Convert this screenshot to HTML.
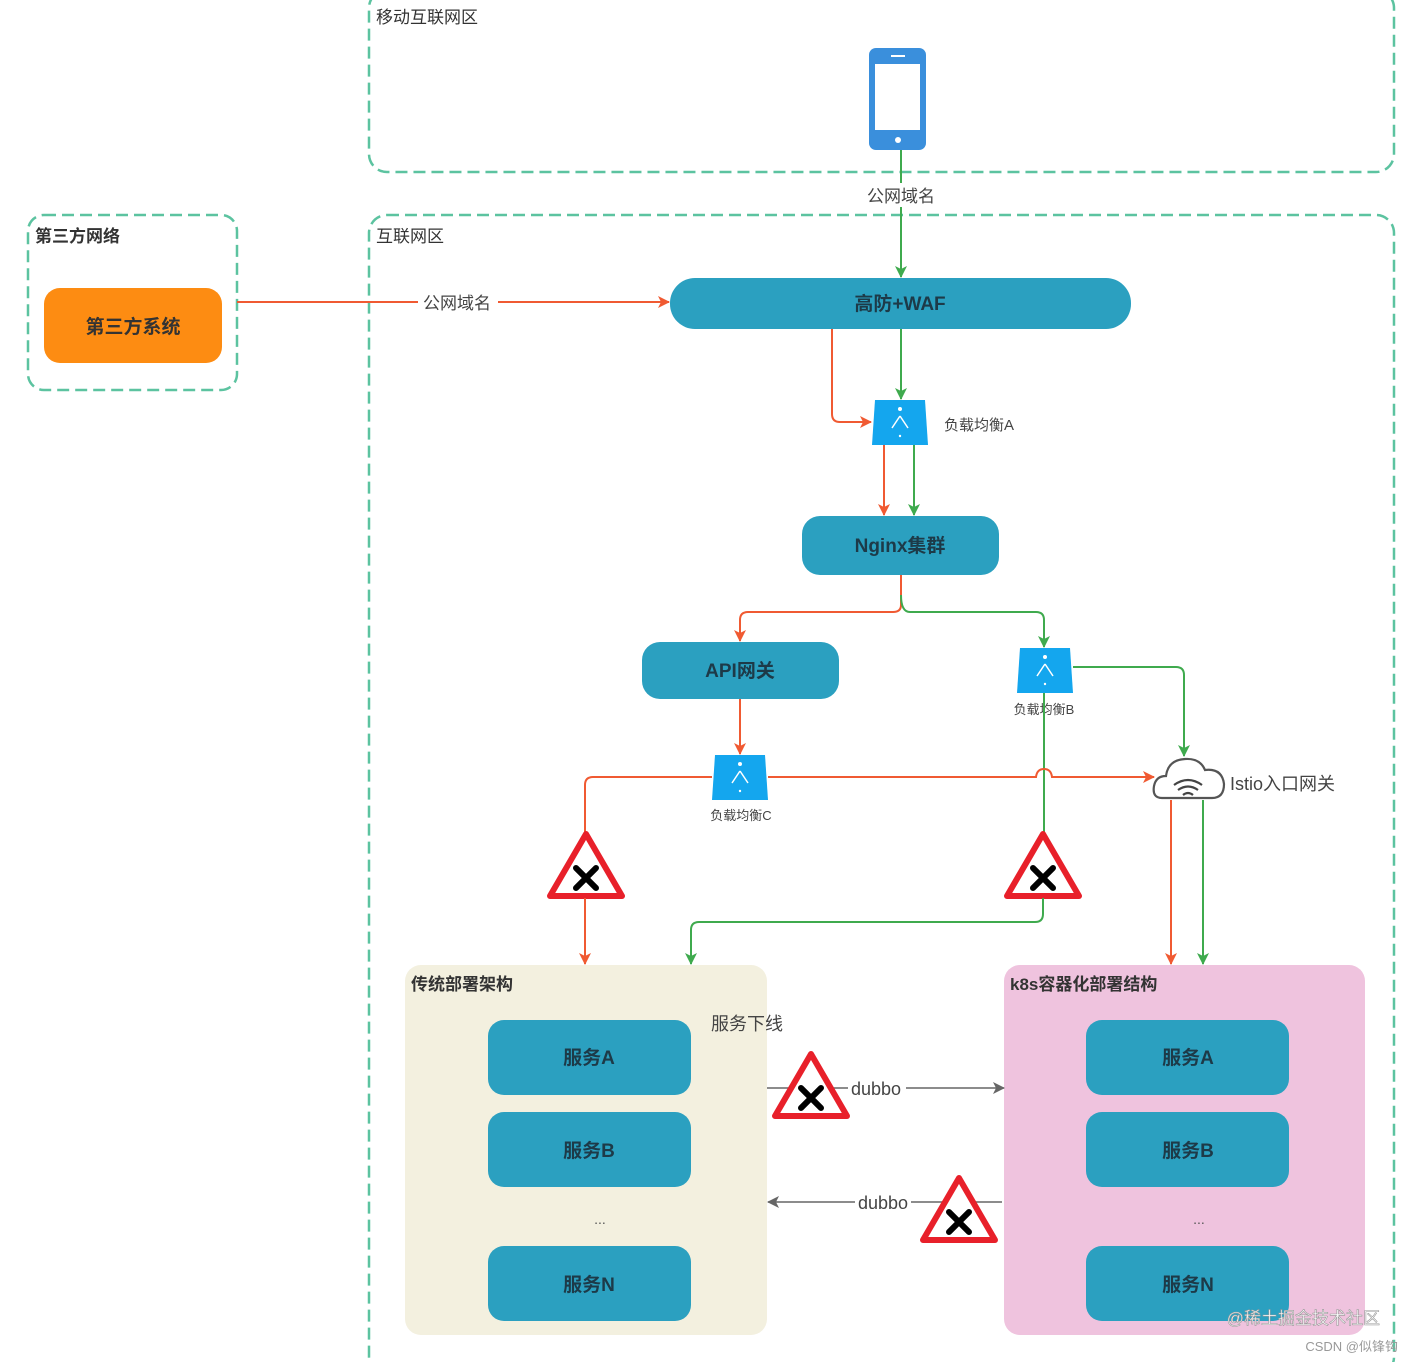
<!DOCTYPE html>
<html><head><meta charset="utf-8"><style>
html,body{margin:0;padding:0;background:#fff;}
svg{display:block;font-family:"Liberation Sans","Noto Sans CJK SC",sans-serif;}
</style></head><body>
<svg width="1414" height="1362" viewBox="0 0 1414 1362" xmlns="http://www.w3.org/2000/svg">
<defs>
<marker id="ar" markerWidth="12" markerHeight="12" refX="11" refY="6" orient="auto" markerUnits="userSpaceOnUse"><path d="M0,0 L12,6 L0,12 L3,6 z" fill="#f05a32"/></marker>
<marker id="ag" markerWidth="12" markerHeight="12" refX="11" refY="6" orient="auto" markerUnits="userSpaceOnUse"><path d="M0,0 L12,6 L0,12 L3,6 z" fill="#3faa4e"/></marker>
<marker id="ak" markerWidth="12" markerHeight="12" refX="11" refY="6" orient="auto" markerUnits="userSpaceOnUse"><path d="M0,0 L12,6 L0,12 L3,6 z" fill="#666"/></marker>
<g id="warn"><path d="M38,4 L74,66 L2,66 z" fill="#fff" stroke="#e8202a" stroke-width="6" stroke-linejoin="round"/><path d="M28,38 L48,58 M48,38 L28,58" stroke="#000" stroke-width="6" stroke-linecap="round"/></g>
<g id="lb"><path d="M3,0 L53,0 L56,45 L0,45 z" fill="#14a6ee"/><circle cx="28" cy="9" r="2" fill="#fff"/><path d="M28,16 L20,28 M28,16 L36,28" stroke="#fff" stroke-width="1.5"/><circle cx="28" cy="36" r="1.2" fill="#fff"/></g>
</defs>

<rect x="369" y="-10" width="1025" height="182" rx="18" fill="none" stroke="#5cc3a0" stroke-width="2.5" stroke-dasharray="12,6"/>
<text x="376" y="23" font-size="17" fill="#333">移动互联网区</text>
<rect x="369" y="215" width="1025" height="1160" rx="18" fill="none" stroke="#5cc3a0" stroke-width="2.5" stroke-dasharray="12,6"/>
<text x="376" y="242" font-size="17" fill="#333">互联网区</text>
<rect x="28" y="215" width="209" height="175" rx="16" fill="none" stroke="#5cc3a0" stroke-width="2.5" stroke-dasharray="12,6"/>
<text x="35" y="242" font-size="17" fill="#333" font-weight="bold">第三方网络</text>
<rect x="44" y="288" width="178" height="75" rx="16" fill="#fd8c12"/>
<text x="133" y="333" font-size="19" fill="#333" text-anchor="middle" font-weight="bold">第三方系统</text>

<rect x="869" y="48" width="57" height="102" rx="7" fill="#3a8fdc"/>
<rect x="875" y="64" width="45" height="66" fill="#fff"/>
<rect x="891" y="55" width="14" height="2" fill="#fff"/>
<circle cx="898" cy="140" r="3" fill="#fff"/>

<line x1="901" y1="150" x2="901" y2="277" stroke="#3faa4e" stroke-width="2" marker-end="url(#ag)"/>
<rect x="860" y="183" width="82" height="24" fill="#fff"/>
<text x="901" y="202" font-size="17" fill="#444" text-anchor="middle">公网域名</text>
<line x1="237" y1="302" x2="669" y2="302" stroke="#f05a32" stroke-width="2" marker-end="url(#ar)"/>
<rect x="418" y="290" width="80" height="24" fill="#fff"/>
<text x="457" y="309" font-size="17" fill="#444" text-anchor="middle">公网域名</text>

<rect x="670" y="278" width="461" height="51" rx="25" fill="#2ba0c0"/>
<text x="900" y="310" font-size="19" fill="#1d3a48" text-anchor="middle" font-weight="bold">高防+WAF</text>

<line x1="901" y1="329" x2="901" y2="399" stroke="#3faa4e" stroke-width="2" marker-end="url(#ag)"/>
<path d="M832,329 L832,414 Q832,422 840,422 L871,422" fill="none" stroke="#f05a32" stroke-width="2" marker-end="url(#ar)"/>
<use href="#lb" x="872" y="400"/>
<text x="944" y="430" font-size="15" fill="#444">负载均衡A</text>
<line x1="884" y1="445" x2="884" y2="515" stroke="#f05a32" stroke-width="2" marker-end="url(#ar)"/>
<line x1="914" y1="445" x2="914" y2="515" stroke="#3faa4e" stroke-width="2" marker-end="url(#ag)"/>

<rect x="802" y="516" width="197" height="59" rx="18" fill="#2ba0c0"/>
<text x="900" y="552" font-size="19" fill="#1d3a48" text-anchor="middle" font-weight="bold">Nginx集群</text>

<path d="M901,575 L901,605 Q901,612 893,612 L748,612 Q740,612 740,620 L740,641" fill="none" stroke="#f05a32" stroke-width="2" marker-end="url(#ar)"/>
<path d="M901,595 Q901,612 910,612 L1036,612 Q1044,612 1044,620 L1044,647" fill="none" stroke="#3faa4e" stroke-width="2" marker-end="url(#ag)"/>

<rect x="642" y="642" width="197" height="57" rx="18" fill="#2ba0c0"/>
<text x="740" y="677" font-size="19" fill="#1d3a48" text-anchor="middle" font-weight="bold">API网关</text>
<line x1="740" y1="699" x2="740" y2="754" stroke="#f05a32" stroke-width="2" marker-end="url(#ar)"/>
<use href="#lb" x="712" y="755"/>
<text x="741" y="820" font-size="13" fill="#444" text-anchor="middle">负载均衡C</text>

<use href="#lb" x="1017" y="648"/>
<text x="1044" y="714" font-size="13" fill="#444" text-anchor="middle">负载均衡B</text>
<path d="M1073,667 L1176,667 Q1184,667 1184,675 L1184,756" fill="none" stroke="#3faa4e" stroke-width="2" marker-end="url(#ag)"/>
<line x1="1044" y1="693" x2="1044" y2="832" stroke="#3faa4e" stroke-width="2"/>

<path d="M712,777 L593,777 Q585,777 585,785 L585,832" fill="none" stroke="#f05a32" stroke-width="2"/>
<path d="M768,777 L1036,777 Q1037,769 1044,769 Q1051,769 1052,777 L1154,777" fill="none" stroke="#f05a32" stroke-width="2" marker-end="url(#ar)"/>

<use href="#warn" x="548" y="830"/>
<use href="#warn" x="1005" y="830"/>
<line x1="585" y1="898" x2="585" y2="964" stroke="#f05a32" stroke-width="2" marker-end="url(#ar)"/>
<path d="M1043,898 L1043,914 Q1043,922 1035,922 L699,922 Q691,922 691,930 L691,964" fill="none" stroke="#3faa4e" stroke-width="2" marker-end="url(#ag)"/>

<path d="M1162,798 Q1152,798 1154,786 Q1156,776 1166,776 Q1168,760 1185,759 Q1200,758 1205,770 Q1222,768 1224,784 Q1224,798 1212,798 Z" fill="#fff" stroke="#555" stroke-width="2.2"/>
<path d="M1174,785 Q1188,775 1202,785 M1178,790 Q1188,783 1198,790 M1183,795 Q1188,791 1193,795" fill="none" stroke="#444" stroke-width="2.2"/>
<text x="1230" y="790" font-size="18" fill="#444">Istio入口网关</text>
<line x1="1171" y1="800" x2="1171" y2="964" stroke="#f05a32" stroke-width="2" marker-end="url(#ar)"/>
<line x1="1203" y1="800" x2="1203" y2="964" stroke="#3faa4e" stroke-width="2" marker-end="url(#ag)"/>

<rect x="405" y="965" width="362" height="370" rx="16" fill="#f3f0df"/>
<text x="411" y="990" font-size="17" fill="#333" font-weight="bold">传统部署架构</text>
<rect x="488" y="1020" width="203" height="75" rx="16" fill="#2ba0c0"/>
<text x="589" y="1064" font-size="19" fill="#1d3a48" text-anchor="middle" font-weight="bold">服务A</text>
<rect x="488" y="1112" width="203" height="75" rx="16" fill="#2ba0c0"/>
<text x="589" y="1157" font-size="19" fill="#1d3a48" text-anchor="middle" font-weight="bold">服务B</text>
<text x="600" y="1224" font-size="14" fill="#555" text-anchor="middle">...</text>
<rect x="488" y="1246" width="203" height="75" rx="16" fill="#2ba0c0"/>
<text x="589" y="1291" font-size="19" fill="#1d3a48" text-anchor="middle" font-weight="bold">服务N</text>
<text x="711" y="1030" font-size="18" fill="#444">服务下线</text>

<rect x="1004" y="965" width="361" height="370" rx="16" fill="#efc3de"/>
<text x="1010" y="990" font-size="17" fill="#333" font-weight="bold">k8s容器化部署结构</text>
<rect x="1086" y="1020" width="203" height="75" rx="16" fill="#2ba0c0"/>
<text x="1188" y="1064" font-size="19" fill="#1d3a48" text-anchor="middle" font-weight="bold">服务A</text>
<rect x="1086" y="1112" width="203" height="75" rx="16" fill="#2ba0c0"/>
<text x="1188" y="1157" font-size="19" fill="#1d3a48" text-anchor="middle" font-weight="bold">服务B</text>
<text x="1199" y="1224" font-size="14" fill="#555" text-anchor="middle">...</text>
<rect x="1086" y="1246" width="203" height="75" rx="16" fill="#2ba0c0"/>
<text x="1188" y="1291" font-size="19" fill="#1d3a48" text-anchor="middle" font-weight="bold">服务N</text>

<line x1="767" y1="1088" x2="1004" y2="1088" stroke="#666" stroke-width="1.5" marker-end="url(#ak)"/>
<rect x="848" y="1076" width="58" height="24" fill="#fff"/>
<text x="876" y="1095" font-size="18" fill="#444" text-anchor="middle">dubbo</text>
<use href="#warn" x="773" y="1050"/>
<line x1="1002" y1="1202" x2="768" y2="1202" stroke="#666" stroke-width="1.5" marker-end="url(#ak)"/>
<rect x="855" y="1190" width="56" height="24" fill="#fff"/>
<text x="883" y="1209" font-size="18" fill="#444" text-anchor="middle">dubbo</text>
<use href="#warn" x="921" y="1174"/>

<text x="1380" y="1324" font-size="17" fill="#fff" stroke="#999" stroke-width="0.6" text-anchor="end">@稀土掘金技术社区</text>
<text x="1398" y="1351" font-size="13" fill="#999" text-anchor="end">CSDN @似锋钩</text>
</svg>
</body></html>
